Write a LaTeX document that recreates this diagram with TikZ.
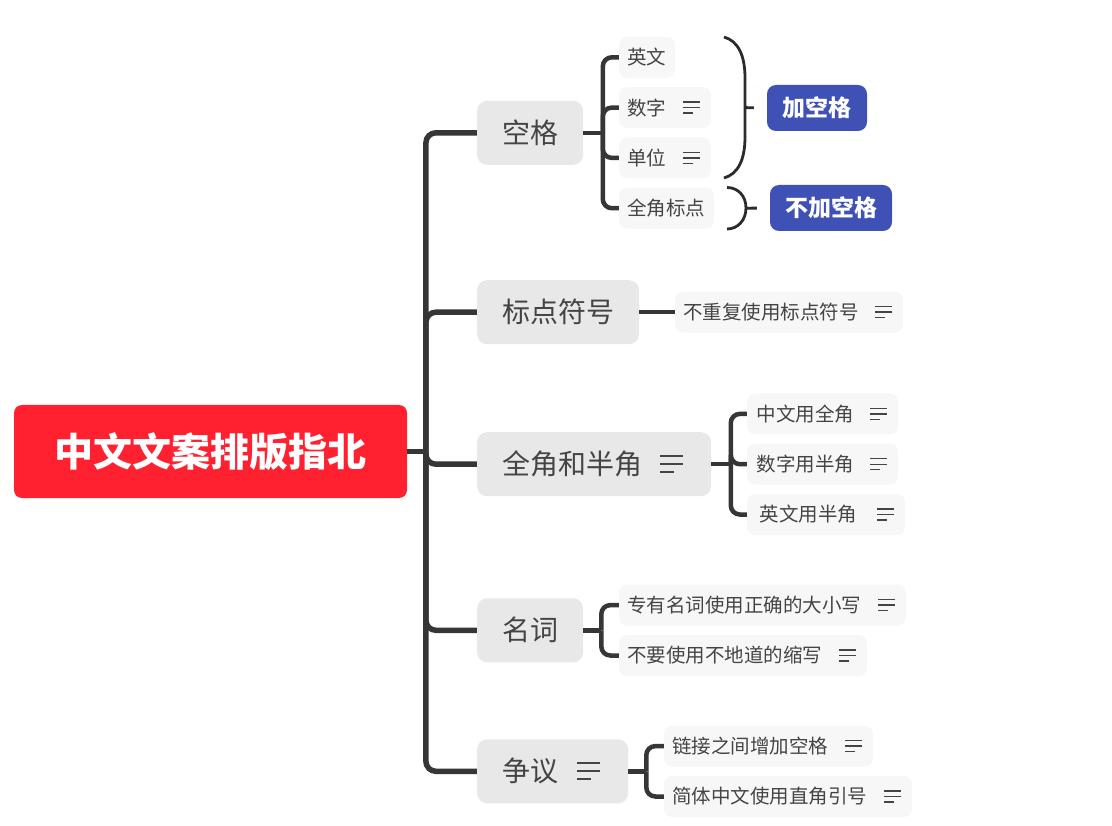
\documentclass[tikz,border=0pt]{standalone}
\usepackage{fontspec}
\setmainfont{Noto Sans CJK SC}
\usetikzlibrary{positioning}
\definecolor{rootred}{HTML}{FF2030}
\definecolor{topicgray}{HTML}{E8E8E8}
\definecolor{subgray}{HTML}{F7F7F7}
\definecolor{tagblue}{HTML}{3F51B5}
\definecolor{inkgray}{HTML}{363636}
\definecolor{textgray}{HTML}{444444}
\definecolor{bracketgray}{HTML}{2B2B2B}
\newcommand{\fsize}[1]{\fontsize{#1pt}{#1pt}\selectfont}

\begin{document}
\begin{tikzpicture}[x=1pt,y=1pt,align=left]
\tikzstyle{root}=[fill=rootred,text=white,rounded corners=8pt,minimum width=393pt,minimum height=93pt,inner sep=0pt,align=center,font=\fsize{39}\bfseries]
\tikzstyle{topic}=[fill=topicgray,text=textgray,rounded corners=10pt,minimum height=64pt,inner xsep=25pt,inner ysep=0pt,font=\fsize{28}]
\tikzstyle{subtopic}=[fill=subgray,text=textgray,rounded corners=8pt,minimum height=41pt,inner xsep=8pt,inner ysep=0pt,font=\fsize{19.5}]
\tikzstyle{tag}=[fill=tagblue,text=white,rounded corners=9pt,minimum height=46pt,inner sep=0pt,align=center,font=\fsize{23}\bfseries]
\tikzstyle{trunklink}=[-,draw=inkgray,line width=5.5pt]
\tikzstyle{sublink}=[-,draw=inkgray,line width=4.5pt]
\tikzstyle{bracket}=[-,draw=bracketgray,line width=2.8pt]
\tikzset{
  notesmall/.pic={
    \draw[textgray,line width=1.4pt] (-17,5.5) -- (0,5.5) (-17,0) -- (0,0) (-17,-5.5) -- (-7,-5.5);
  },
  notebig/.pic={
    \draw[textgray,line width=1.9pt] (-23.5,8) -- (0,8) (-23.5,0) -- (0,0) (-23.5,-8) -- (-9,-8);
  }
}

\useasboundingbox (0,0) rectangle (1112,-826);

\node[root] (root) at (210.5,-451.5) {中文文案排版指北};

\node[topic, text width=56pt, anchor=west] (space) at ([xshift=69.7pt,yshift=318.7pt]root.east) {空格};
\node[topic, text width=112pt, below=115pt of space.south west, anchor=north west] (punct) {标点符号};
\node[topic, text width=184pt, below=87.6pt of punct.south west, anchor=north west] (width) {全角和半角};
\node[topic, text width=56pt, below=101.7pt of width.south west, anchor=north west] (noun) {名词};
\node[topic, text width=101pt, below=76.6pt of noun.south west, anchor=north west] (debate) {争议};

% sub topics
\node[subtopic, text width=40pt, above right=75.5pt and 35.5pt of space.east, anchor=west] (english) {英文};
\node[subtopic, text width=76pt, below=8.9pt of english.south west, anchor=north west] (digit) {数字};
\node[subtopic, text width=76pt, below=8.9pt of digit.south west, anchor=north west] (unit) {单位};
\node[subtopic, text width=79pt, below=8.9pt of unit.south west, anchor=north west] (fullmark) {全角标点};

\node[subtopic, text width=212pt, right=35.5pt of punct] (norepeat) {不重复使用标点符号};

\node[subtopic, inner xsep=9.5pt, text width=132pt, right=35.5pt of width] (cnfull) {数字用半角};
\node[subtopic, inner xsep=9.5pt, text width=132pt, above=8.9pt of cnfull.north west, anchor=south west] (cnfulltop) {中文用全角};
\node[subtopic, inner xsep=12.5pt, text width=133pt, below=8.9pt of cnfull.south west, anchor=north west] (enhalf) {英文用半角};

\node[subtopic, text width=271pt, above right=4.5pt and 35.5pt of noun.east, anchor=south west] (proper) {专有名词使用正确的大小写};
\node[subtopic, text width=232pt, below right=4.5pt and 35.5pt of noun.east, anchor=north west] (abbrev) {不要使用不地道的缩写};

\node[subtopic, text width=193pt, above right=4.5pt and 35.5pt of debate.east, anchor=south west] (linkgap) {链接之间增加空格};
\node[subtopic, text width=232pt, below right=4.5pt and 35.5pt of debate.east, anchor=north west] (quote) {简体中文使用直角引号};

% tags on the right
\node[tag, minimum width=100pt] (tagadd) at (817,-108) {加空格};
\node[tag, minimum width=122pt] (tagnone) at (831,-208) {不加空格};

% trunk
\coordinate[right=18.7pt of root] (trunk);
\draw[trunklink] (root.east) -- (trunk);
\foreach \t in {space,punct,width,noun,debate}
  \draw[trunklink,rounded corners=10pt] (trunk) |- (\t.west);

% sub links
\coordinate[right=19.5pt of space] (spacefork);
\coordinate[right=19.5pt of width] (widthfork);
\coordinate[right=18pt of noun] (nounfork);
\coordinate[right=18pt of debate] (debatefork);
\draw[sublink] (space.east) -- (spacefork);
\draw[sublink] (width.east) -- (widthfork);
\draw[sublink] (noun.east) -- (nounfork);
\draw[sublink] (debate.east) -- (debatefork);
\foreach \s in {english,digit,unit,fullmark}
  \draw[sublink,rounded corners=9pt] (spacefork) |- (\s.west);
\foreach \s in {cnfulltop,cnfull,enhalf}
  \draw[sublink,rounded corners=9pt] (widthfork) |- (\s.west);
\foreach \s in {proper,abbrev}
  \draw[sublink,rounded corners=9pt] (nounfork) |- (\s.west);
\foreach \s in {linkgap,quote}
  \draw[sublink,rounded corners=9pt] (debatefork) |- (\s.west);
\draw[sublink] (punct.east) -- (norepeat.west);

% brackets
\coordinate[right=33.5pt of digit] (addmid);
\coordinate[right=31.5pt of fullmark] (nonemid);
\draw[bracket] (724,-37) .. controls (738,-41) and (745,-55) .. (745,-78) -- (745,-137) .. controls (745,-160) and (738,-174) .. (724,-178);
\draw[bracket] (727,-187.5) .. controls (738,-187.5) and (746,-196) .. (746,-208) .. controls (746,-220) and (738,-229) .. (727,-229);
\draw[bracket,shorten >=13pt] (addmid) -- (tagadd.west);
\draw[bracket,shorten >=13pt] (nonemid) -- (tagnone.west);

% note icons
\foreach \n in {digit,unit,norepeat,cnfulltop,cnfull,enhalf,proper,abbrev,linkgap,quote}
  \pic at ([xshift=-11pt]\n.east) {notesmall};
\foreach \n in {width,debate}
  \pic at ([xshift=-28pt]\n.east) {notebig};
\end{tikzpicture}
\end{document}
